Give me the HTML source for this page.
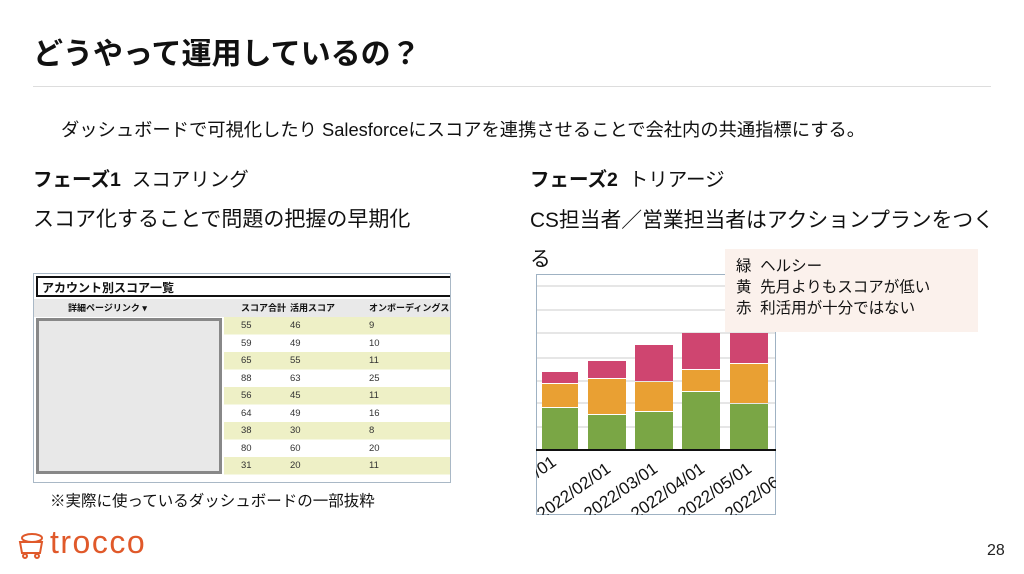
<!DOCTYPE html><html><head><meta charset="utf-8"><style>
body{margin:0;width:1024px;height:574px;background:#fff;position:relative;overflow:hidden;font-family:"Liberation Sans","Noto Sans CJK JP",sans-serif;color:#111}
.a{position:absolute;white-space:nowrap}
</style></head><body>
<div class="a" style="left:33px;top:29px;font-size:30px;font-weight:bold">どうやって運用しているの？</div>
<div class="a" style="left:33px;top:86px;width:958px;height:1px;background:#ddd"></div>
<div class="a" style="left:61px;top:116px;font-size:18.3px">ダッシュボードで可視化したり Salesforceにスコアを連携させることで会社内の共通指標にする。</div>
<div class="a" style="left:33px;top:163px;font-size:19.5px"><b>フェーズ1</b>&nbsp; スコアリング</div>
<div class="a" style="left:33px;top:203px;font-size:21px">スコア化することで問題の把握の早期化</div>
<div class="a" style="left:530px;top:163px;font-size:19.5px"><b>フェーズ2</b>&nbsp; トリアージ</div>
<div class="a" style="left:530px;top:203px;font-size:20.8px">CS担当者／営業担当者はアクションプランをつく</div>
<div class="a" style="left:530px;top:242px;font-size:20.8px">る</div>
<!-- table -->
<div class="a" style="left:33px;top:273px;width:416px;height:208px;border:1px solid #a9b8c6;background:#fff;font-size:9px;overflow:hidden">
<div class="a" style="left:2px;top:2px;width:414px;height:21px;border:2px solid #111;border-right:none;font-size:12px;font-weight:bold;line-height:21px;padding-left:4px;box-sizing:border-box">アカウント別スコア一覧</div>
<div class="a" style="left:0;top:25px;width:416px;height:18px;background:#e9e9e9;font-weight:bold;line-height:18px">
<span class="a" style="left:34px">詳細ページリンク ▾</span><span class="a" style="left:207px">スコア合計</span><span class="a" style="left:256px">活用スコア</span><span class="a" style="left:335px">オンボーディングスコ.</span></div>
<div class="a" style="left:190px;top:43px;width:226px;height:158px;background:repeating-linear-gradient(#eef0c6 0 17.5px,#fff 17.5px 35px)"></div>
<div class="a" style="left:2px;top:44px;width:186px;height:156px;background:#e8e8e8;border:3px solid #888;box-sizing:border-box"></div>
<div class="a" style="left:207px;top:43px;line-height:17.5px;font-size:9.5px;color:#333">55<br>59<br>65<br>88<br>56<br>64<br>38<br>80<br>31</div>
<div class="a" style="left:256px;top:43px;line-height:17.5px;font-size:9.5px;color:#333">46<br>49<br>55<br>63<br>45<br>49<br>30<br>60<br>20</div>
<div class="a" style="left:335px;top:43px;line-height:17.5px;font-size:9.5px;color:#333">9<br>10<br>11<br>25<br>11<br>16<br>8<br>20<br>11</div>
</div>
<div class="a" style="left:50px;top:489px;font-size:15.5px">※実際に使っているダッシュボードの一部抜粋</div>
<!-- chart -->
<svg class="a" style="left:536px;top:274px;overflow:hidden" width="240" height="241" viewBox="536 274 240 241">
<rect x="536.5" y="274.5" width="239" height="240" fill="#fff" stroke="#9fb2c3"/>
<g stroke="#ccc"><line x1="537" x2="775" y1="286" y2="286"/><line x1="537" x2="775" y1="310" y2="310"/><line x1="537" x2="775" y1="333" y2="333"/><line x1="537" x2="775" y1="358" y2="358"/><line x1="537" x2="775" y1="381" y2="381"/><line x1="537" x2="775" y1="403" y2="403"/><line x1="537" x2="775" y1="427" y2="427"/></g>
<g fill="#cf4570"><rect x="542" y="372" width="36" height="11"/><rect x="588" y="361" width="38" height="17"/><rect x="635" y="345" width="38" height="36"/><rect x="682" y="333" width="38" height="36"/><rect x="730" y="333" width="38" height="30"/></g>
<g fill="#e9a033"><rect x="542" y="384" width="36" height="23"/><rect x="588" y="379" width="38" height="35"/><rect x="635" y="382" width="38" height="29"/><rect x="682" y="370" width="38" height="21"/><rect x="730" y="364" width="38" height="39"/></g>
<g fill="#7aa645"><rect x="542" y="408" width="36" height="41"/><rect x="588" y="415" width="38" height="34"/><rect x="635" y="412" width="38" height="37"/><rect x="682" y="392" width="38" height="57"/><rect x="730" y="404" width="38" height="45"/></g>
<line x1="536" x2="776" y1="450" y2="450" stroke="#111" stroke-width="2"/>
<g font-size="17" fill="#111" font-family="Liberation Sans,sans-serif">
<text transform="translate(538,478) rotate(-35)">/01</text>
<text transform="translate(542,520) rotate(-35)">2022/02/01</text>
<text transform="translate(589,520) rotate(-35)">2022/03/01</text>
<text transform="translate(636,520) rotate(-35)">2022/04/01</text>
<text transform="translate(683,520) rotate(-35)">2022/05/01</text>
<text transform="translate(730,520) rotate(-35)">2022/06</text>
</g>
</svg>
<div class="a" style="left:725px;top:249px;width:253px;height:83px;background:#fbf1ec;font-size:15.5px;line-height:21px;padding:7px 0 0 11px;box-sizing:border-box">緑&nbsp; ヘルシー<br>黄&nbsp; 先月よりもスコアが低い<br>赤&nbsp; 利活用が十分ではない</div>
<!-- logo -->
<svg class="a" style="left:16px;top:532px" width="30" height="28" viewBox="0 0 30 28" fill="none" stroke="#e0592a" stroke-width="2"><ellipse cx="16" cy="6" rx="10" ry="4"/><path d="M4 10h22l-2 11H6z"/><circle cx="9" cy="24" r="2"/><circle cx="21" cy="24" r="2"/></svg>
<div class="a" style="left:50px;top:524px;font-size:32px;color:#e0592a;letter-spacing:1.5px">trocco</div>
<div class="a" style="left:987px;top:542px;font-size:16px;color:#222">28</div>
</body></html>
